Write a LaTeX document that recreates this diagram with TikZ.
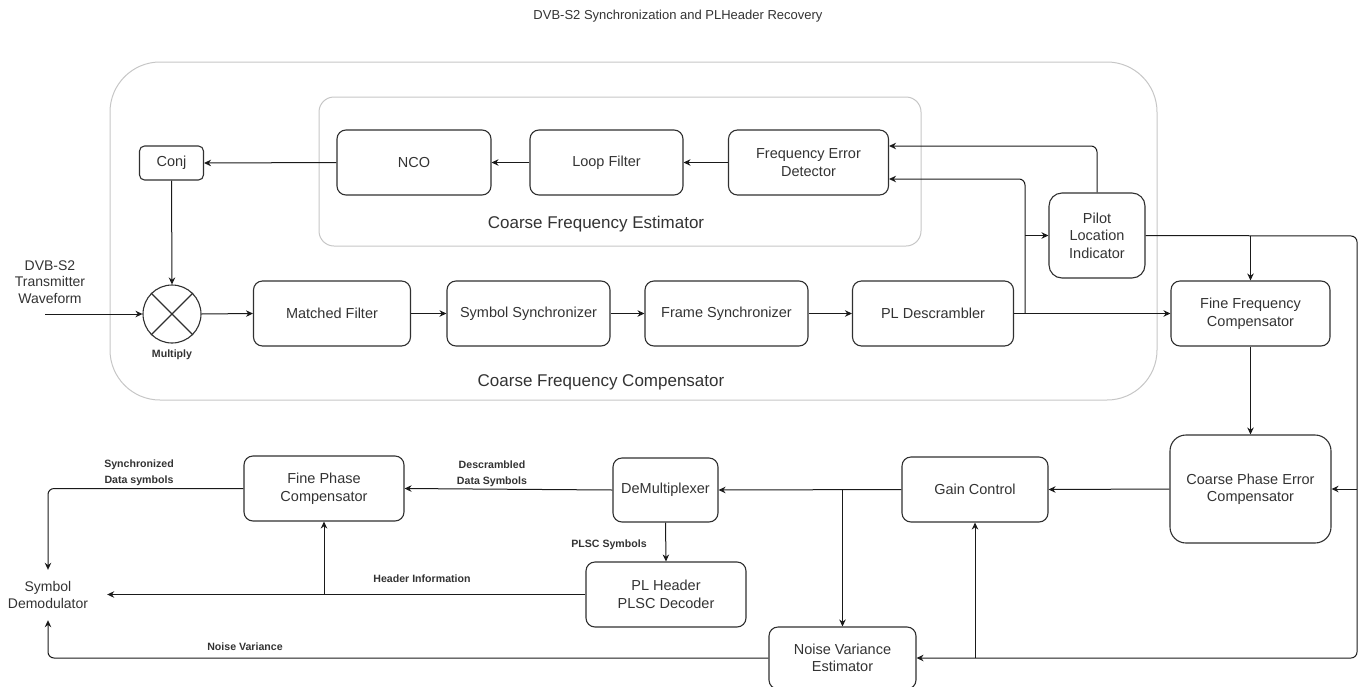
\documentclass[tikz,border=0pt]{standalone}
\usepackage{fontspec}
\setmainfont{Liberation Sans}
\usetikzlibrary{arrows.meta}
\definecolor{txt}{HTML}{333333}
\definecolor{edge}{HTML}{303030}
\definecolor{frame}{HTML}{C6C6C6}
\definecolor{wirec}{HTML}{1A1A1A}

\begin{document}
\begin{tikzpicture}[x=1pt,y=-1pt,
  blk/.style={draw=edge, line width=1.1pt, rounded corners=9pt, align=center,
    text=txt, inner sep=0pt, font=\fontsize{14.5}{17.5}\selectfont},
  grp/.style={draw=frame, line width=1pt, inner sep=0pt},
  grplabel/.style={text=txt, font=\fontsize{17}{20}\selectfont},
  wire/.style={draw=wirec, line width=1pt, rounded corners=6pt},
  arr/.style={wire, -{Stealth[length=7pt,width=6.5pt]}},
  tag/.style={text=txt, align=center, font=\bfseries\fontsize{10.6}{16}\selectfont},
  plain/.style={text=txt, align=center, inner sep=0pt, font=\fontsize{14}{16.5}\selectfont},
]
\useasboundingbox (0,0) rectangle (1358,686);

% title
\node[text=txt, font=\fontsize{13}{15}\selectfont] (title) at (678,16)
  {DVB-S2 Synchronization and PLHeader Recovery};

% group frames
\node[grp, rounded corners=50pt, minimum width=1047pt, minimum height=338pt]
  (cfc) at (633.5,231) {};
\node[grplabel] (cfclabel) at (601,382) {Coarse Frequency Compensator};
\node[grp, rounded corners=15pt, minimum width=602pt, minimum height=149pt]
  (cfe) at (620,171.5) {};
\node[grplabel] (cfelabel) at (596,224) {Coarse Frequency Estimator};

% blocks of the coarse frequency estimator
\node[blk, minimum width=154pt, minimum height=65pt] (nco) at (414,162.5) {NCO};
\node[blk, minimum width=153pt, minimum height=65pt] (lf)  at (606.5,162.5) {Loop Filter};
\node[blk, minimum width=160pt, minimum height=65pt] (fed) at (808.5,162.5)
  {Frequency Error\\Detector};
\node[blk, rounded corners=5pt, minimum width=64pt, minimum height=34pt]
  (conj) at (171.5,163) {Conj};

% mixer
\node[draw=edge, line width=1.1pt, circle, minimum size=58pt, inner sep=0pt]
  (mul) at (172,314) {};
\draw[draw=edge, line width=1.1pt] (mul.45) -- (mul.225) (mul.135) -- (mul.315);
\node[tag] (mullabel) at (172,355) {Multiply};

% input
\node[plain] (src) at (50,282) {DVB-S2\\Transmitter\\Waveform};
\coordinate (in) at (45,314);

% main chain
\node[blk, minimum width=157pt, minimum height=65pt] (mf)  at (332,313.5) {Matched Filter};
\node[blk, minimum width=163pt, minimum height=65pt] (ss)  at (528.5,313.5) {Symbol Synchronizer};
\node[blk, minimum width=163pt, minimum height=65pt] (fs)  at (726.5,313.5) {Frame Synchronizer};
\node[blk, minimum width=161pt, minimum height=65pt] (pld) at (933,313.5) {PL Descrambler};
\node[blk, rounded corners=13pt, minimum width=96pt, minimum height=85pt]
  (pilot) at (1097,235.5) {Pilot\\Location\\Indicator};
\node[blk, minimum width=159pt, minimum height=65pt] (ffc) at (1250.5,313.5)
  {Fine Frequency\\Compensator};
\node[blk, rounded corners=16pt, minimum width=161pt, minimum height=108pt]
  (cpec) at (1250.5,489) {Coarse Phase Error\\Compensator};

% lower row
\node[blk, minimum width=146pt, minimum height=65pt] (gc)  at (975,489.5) {Gain Control};
\node[blk, minimum width=105pt, minimum height=64pt] (dmx) at (665.5,490) {DeMultiplexer};
\node[blk, minimum width=160pt, minimum height=65pt] (fpc) at (324,488.5)
  {Fine Phase\\Compensator};
\node[blk, minimum width=160pt, minimum height=65pt] (plh) at (666,594.5)
  {PL Header\\PLSC Decoder};
\node[blk, minimum width=147pt, minimum height=62pt] (nve) at (842.5,658)
  {Noise Variance\\Estimator};
\node[plain, minimum width=118pt, minimum height=50pt] (sd) at (48,595)
  {Symbol\\Demodulator};

% connector labels
\node[tag] (lsync)  at (139,473) {Synchronized\\Data symbols};
\node[tag] (ldesc)  at (492,474) {Descrambled\\Data Symbols};
\node[tag] (lplsc)  at (609,545) {PLSC Symbols};
\node[tag] (lhdr)   at (422,579) {Header Information};
\node[tag] (lnoise) at (245,647) {Noise Variance};

% estimator loop
\draw[arr] (fed.west) -- (lf.east);
\draw[arr] (lf.west) -- (nco.east);
\draw[arr] (nco.west) -- (conj.east);
\draw[arr] (conj.south) -- (mul.north);

% main signal path
\draw[arr] (in) -- (mul.west);
\draw[arr] (mul.east) -- (mf.west);
\draw[arr] (mf.east) -- (ss.west);
\draw[arr] (ss.east) -- (fs.west);
\draw[arr] (fs.east) -- (pld.west);
\draw[arr] (pld.east) -- (ffc.west);

% taps after the descrambler
\coordinate (tap) at (1025,313.5);
\draw[arr] (tap) |- ([yshift=-16.5pt]fed.east);
\draw[arr] (tap |- pilot.west) -- (pilot.west);
\draw[arr] (pilot.north) |- ([yshift=16.5pt]fed.east);

% pilot indicator distribution
\coordinate (rt) at (1357,236);
\coordinate (rb) at (1357,658);
\draw[arr] (pilot.east) -- (rt) -- (rb) -- (nve.east);
\draw[arr] (pilot.east -| ffc.north) -- (ffc.north);
\draw[arr] (rt |- cpec.east) -- (cpec.east);
\draw[arr] (gc.south |- rb) -- (gc.south);

% phase / gain chain
\draw[arr] (ffc.south) -- (cpec.north);
\draw[arr] (cpec.west) -- (gc.east);
\draw[arr] (gc.west) -- (dmx.east);
\draw[arr] (nve.north |- gc.west) -- (nve.north);
\draw[arr] (dmx.west) -- (fpc.east);
\draw[arr] (dmx.south) -- (plh.north);

% outputs towards the demodulator
\draw[arr] (fpc.west) -| (sd.north);
\draw[arr] (plh.west) -- (sd.east |- plh.west);
\draw[arr] (plh.west -| fpc.south) -- (fpc.south);
\draw[arr] (nve.west) -| (sd.south);
\end{tikzpicture}
\end{document}
